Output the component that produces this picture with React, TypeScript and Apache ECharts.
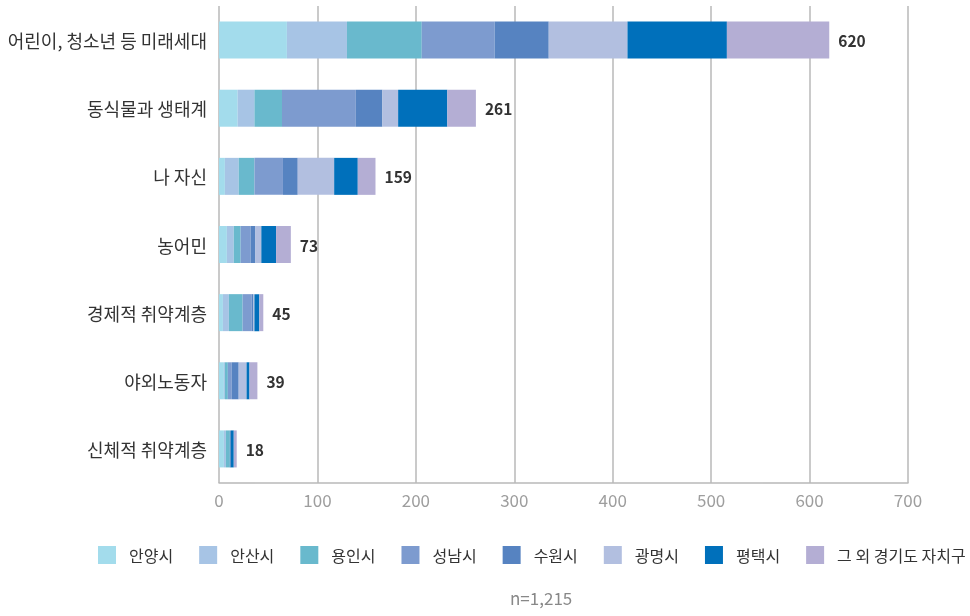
import React, { useEffect, useRef } from "react";
import * as echarts from "echarts";

const categories = [
  "어린이, 청소년 등 미래세대",
  "동식물과 생태계",
  "나 자신",
  "농어민",
  "경제적 취약계층",
  "야외노동자",
  "신체적 취약계층",
];

const seriesNames = ["안양시", "안산시", "용인시", "성남시", "수원시", "광명시", "평택시", "그 외 경기도 자치구"];

const anyang = [69, 19, 6, 8, 4, 5, 5];
const ansan = [61, 17, 14, 7, 6, 1, 2];
const yongin = [76, 28, 16, 7, 14, 3, 4];
const seongnam = [74, 75, 29, 10, 9, 4, 0];
const suwon = [55, 27, 15, 5, 2, 7, 1];
const gwangmyeong = [80, 16, 37, 6, 1, 8, 0];
const pyeongtaek = [101, 50, 24, 15, 5, 3, 3];
const others = [104, 29, 18, 15, 4, 8, 3];

const totals = [620, 261, 159, 73, 45, 39, 18];

const xTicks = { min: 0, max: 700, interval: 100 };

const colors = ["#a3dcec", "#a7c4e5", "#69b9cd", "#7d9bcf", "#5683c1", "#b2bfe0", "#0070bb", "#b4aed4"];

const FONT = "'Noto Sans CJK KR', 'Noto Sans', sans-serif";

export default function App() {
  const ref = useRef<HTMLDivElement>(null);
  useEffect(() => {
    if (!ref.current) return;
    const chart = echarts.init(ref.current, undefined, { renderer: "svg" });
    const dataSets = [anyang, ansan, yongin, seongnam, suwon, gwangmyeong, pyeongtaek, others];
    const series = dataSets.map((d, i) => ({
      name: seriesNames[i],
      type: "bar",
      stack: "total",
      barWidth: 37,
      data: d,
      itemStyle: { color: colors[i] },
      label:
        i === dataSets.length - 1
          ? {
              show: true,
              position: "right",
              distance: 9,
              formatter: (p: any) => String(totals[p.dataIndex]),
              fontFamily: FONT,
              fontSize: 15.5,
              fontWeight: "bold",
              color: "#333",
            }
          : { show: false },
    }));
    chart.setOption({
      animation: false,
      textStyle: { fontFamily: FONT },
      grid: { left: 219, right: 62, top: 6, bottom: 133, containLabel: false },
      xAxis: {
        type: "value",
        min: xTicks.min,
        max: xTicks.max,
        interval: xTicks.interval,
        axisLine: { show: true, lineStyle: { color: "#b8b8b8", width: 1.5 } },
        axisTick: { show: false },
        axisLabel: { color: "#9e9e9e", fontSize: 17, fontFamily: FONT, margin: 8 },
        splitLine: { show: true, lineStyle: { color: "#b8b8b8", width: 1.5 } },
      },
      yAxis: {
        type: "category",
        inverse: true,
        data: categories,
        axisLine: { show: false },
        axisTick: { show: false },
        axisLabel: { color: "#333", fontSize: 18, fontFamily: FONT, margin: 12 },
      },
      legend: {
        left: 93,
        top: 541,
        width: 875,
        itemWidth: 18,
        itemHeight: 18,
        itemGap: 26,
        icon: "rect",
        textStyle: { color: "#333", fontSize: 16, fontFamily: FONT, padding: [0, 0, 0, 8] },
        data: seriesNames,
      },
      graphic: [
        {
          type: "text",
          left: 510,
          top: 589,
          style: { text: "n=1,215", fill: "#888", fontSize: 17, fontFamily: FONT },
        },
      ],
      series,
    });
    return () => chart.dispose();
  }, []);
  return <div ref={ref} style={{ position: "fixed", left: 0, top: 0, width: 970, height: 616 }} />;
}
